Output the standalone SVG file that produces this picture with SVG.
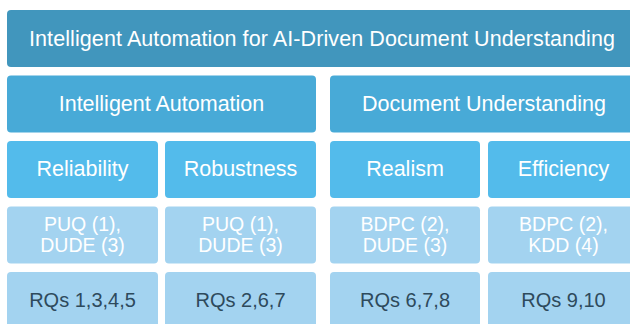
<svg xmlns="http://www.w3.org/2000/svg" width="630" height="324" viewBox="0 0 630 324">
<style>
rect{rx:4px;ry:4px}
.l0{fill:#4196bd}
.l1{fill:#48aad7}
.l2{fill:#53bbeb}
.l3{fill:#a3d3f0}
text{font-family:"Liberation Sans",Arial,sans-serif;text-anchor:middle}
.h{font-size:21.5px;fill:#ffffff}
.p{font-size:19.5px;fill:#ffffff}
.r{font-size:20px;fill:#2e4a5c}
</style>
<rect x="0" y="0" width="630" height="324" fill="#ffffff" style="rx:0;ry:0"/>
<g id="title"><rect class="l0" x="7" y="10" width="632" height="57"/><text class="h" x="322" y="45.5" textLength="586" lengthAdjust="spacing">Intelligent Automation for AI-Driven Document Understanding</text></g>
<g id="ia"><rect class="l1" x="7" y="75.5" width="309" height="57"/><text class="h" x="161.5" y="110.5">Intelligent Automation</text></g>
<g id="du"><rect class="l1" x="330" y="75.5" width="309" height="57"/><text class="h" x="484" y="110.5">Document Understanding</text></g>
<g id="reliability"><rect class="l2" x="7" y="141" width="151" height="57"/><text class="h" x="82.5" y="176">Reliability</text></g>
<g id="robustness"><rect class="l2" x="165" y="141" width="151" height="57"/><text class="h" x="240.5" y="176">Robustness</text></g>
<g id="realism"><rect class="l2" x="330" y="141" width="150" height="57"/><text class="h" x="405" y="176">Realism</text></g>
<g id="efficiency"><rect class="l2" x="488" y="141" width="151" height="57"/><text class="h" x="563.5" y="176">Efficiency</text></g>
<g id="pub1"><rect class="l3" x="7" y="206.5" width="151" height="57"/><text class="p" x="82.5" y="231">PUQ (1),</text><text class="p" x="82.5" y="251.5">DUDE (3)</text></g>
<g id="pub2"><rect class="l3" x="165" y="206.5" width="151" height="57"/><text class="p" x="240.5" y="231">PUQ (1),</text><text class="p" x="240.5" y="251.5">DUDE (3)</text></g>
<g id="pub3"><rect class="l3" x="330" y="206.5" width="150" height="57"/><text class="p" x="405" y="231">BDPC (2),</text><text class="p" x="405" y="251.5">DUDE (3)</text></g>
<g id="pub4"><rect class="l3" x="488" y="206.5" width="151" height="57"/><text class="p" x="563.5" y="231">BDPC (2),</text><text class="p" x="563.5" y="251.5">KDD (4)</text></g>
<g id="rq1"><rect class="l3" x="7" y="272" width="151" height="57"/><text class="r" x="82.5" y="307">RQs 1,3,4,5</text></g>
<g id="rq2"><rect class="l3" x="165" y="272" width="151" height="57"/><text class="r" x="240.5" y="307">RQs 2,6,7</text></g>
<g id="rq3"><rect class="l3" x="330" y="272" width="150" height="57"/><text class="r" x="405" y="307">RQs 6,7,8</text></g>
<g id="rq4"><rect class="l3" x="488" y="272" width="151" height="57"/><text class="r" x="563.5" y="307">RQs 9,10</text></g>
<g id="connectors"></g>
</svg>
